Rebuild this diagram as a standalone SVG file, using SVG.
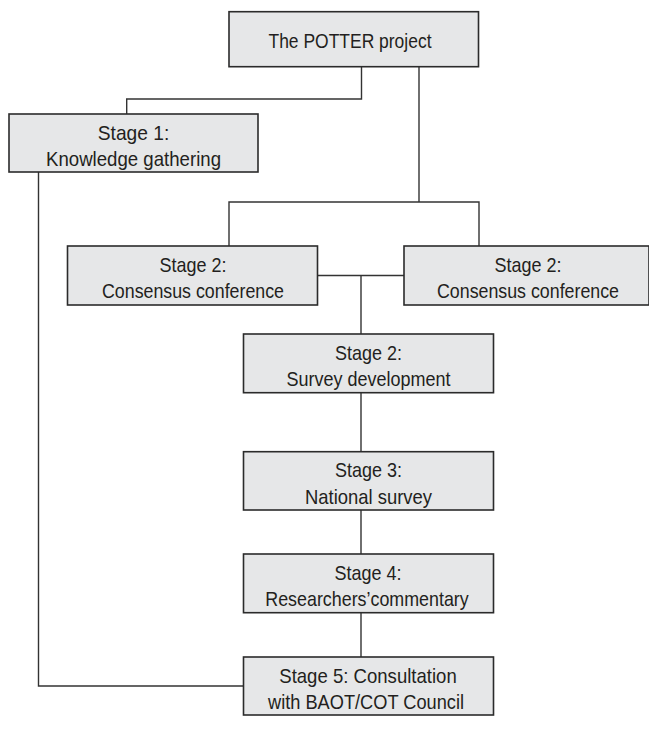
<svg xmlns="http://www.w3.org/2000/svg" width="649" height="736" viewBox="0 0 649 736">
<style>
.box{fill:#e6e7e8;stroke:#2b2b2b;stroke-width:1.6}
.ln{fill:none;stroke:#333;stroke-width:1.4}
text{font-family:"Liberation Sans",Arial,sans-serif;font-size:21px;fill:#231f20;text-anchor:middle}
</style>
<rect width="649" height="736" fill="#fff"/>
<g id="connectors">
<polyline class="ln" points="361.5,66.7 361.5,99 126.7,99 126.7,114"/>
<line class="ln" x1="419" y1="66.7" x2="419" y2="202"/>
<polyline class="ln" points="229,246 229,202 479,202 479,246"/>
<line class="ln" x1="317.5" y1="275.5" x2="404" y2="275.5"/>
<line class="ln" x1="361" y1="275.5" x2="361" y2="334"/>
<line class="ln" x1="361" y1="392.7" x2="361" y2="451.7"/>
<line class="ln" x1="361" y1="510" x2="361" y2="554"/>
<line class="ln" x1="361" y1="612.7" x2="361" y2="657"/>
<polyline class="ln" points="38.5,172 38.5,686 243.5,686"/>
</g>
<g id="potter">
<rect class="box" x="229" y="11.7" width="249.5" height="55"/>
<text x="350" y="48" textLength="163" lengthAdjust="spacingAndGlyphs">The POTTER project</text>
</g>
<g id="stage1">
<rect class="box" x="9" y="114" width="249" height="58"/>
<text x="133.5" y="139.5" textLength="71.5" lengthAdjust="spacingAndGlyphs">Stage 1:</text>
<text x="133.5" y="166" textLength="175" lengthAdjust="spacingAndGlyphs">Knowledge gathering</text>
</g>
<g id="consensus-left">
<rect class="box" x="67.5" y="246" width="250" height="59"/>
<text x="193" y="271.5" textLength="67" lengthAdjust="spacingAndGlyphs">Stage 2:</text>
<text x="193" y="298" textLength="182" lengthAdjust="spacingAndGlyphs">Consensus conference</text>
</g>
<g id="consensus-right">
<rect class="box" x="404" y="246" width="245" height="59"/>
<text x="528" y="271.5" textLength="67" lengthAdjust="spacingAndGlyphs">Stage 2:</text>
<text x="528" y="298" textLength="182" lengthAdjust="spacingAndGlyphs">Consensus conference</text>
</g>
<g id="survey-dev">
<rect class="box" x="243.5" y="334" width="250" height="58.7"/>
<text x="368.5" y="359.5" textLength="67" lengthAdjust="spacingAndGlyphs">Stage 2:</text>
<text x="368.5" y="386" textLength="164" lengthAdjust="spacingAndGlyphs">Survey development</text>
</g>
<g id="national">
<rect class="box" x="243.5" y="451.7" width="250" height="58.3"/>
<text x="368.5" y="477" textLength="67" lengthAdjust="spacingAndGlyphs">Stage 3:</text>
<text x="368.5" y="503.5" textLength="127" lengthAdjust="spacingAndGlyphs">National survey</text>
</g>
<g id="commentary">
<rect class="box" x="243.5" y="554" width="250" height="58.7"/>
<text x="368" y="579.5" textLength="67" lengthAdjust="spacingAndGlyphs">Stage 4:</text>
<text x="367" y="606" textLength="203.5" lengthAdjust="spacingAndGlyphs">Researchers’commentary</text>
</g>
<g id="consultation">
<rect class="box" x="243.5" y="657" width="250" height="58"/>
<text x="368" y="682.5" textLength="177.5" lengthAdjust="spacingAndGlyphs">Stage 5: Consultation</text>
<text x="366" y="709" textLength="196" lengthAdjust="spacingAndGlyphs">with BAOT/COT Council</text>
</g>
</svg>
